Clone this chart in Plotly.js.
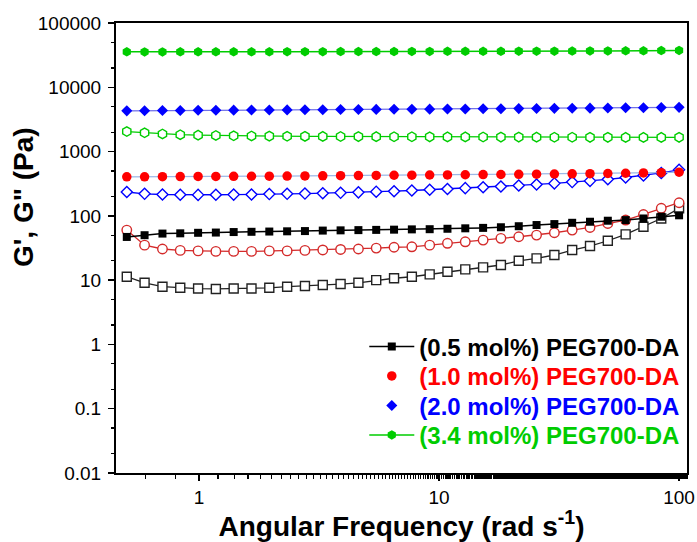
<!DOCTYPE html>
<html>
<head>
<meta charset="utf-8">
<script src="https://cdn.plot.ly/plotly-3.0.1.min.js"></script>
<style>
  html, body { margin: 0; padding: 0; background: #fff; }
  #chart { width: 697px; height: 542px; }
</style>
</head>
<body>
<div id="chart"></div>
<script>
// Angular frequency sweep (rad/s)
const freq = [0.5, 0.593, 0.704, 0.835, 0.991, 1.175, 1.394, 1.654, 1.962, 2.328,
  2.762, 3.277, 3.888, 4.613, 5.472, 6.493, 7.702, 9.139, 10.84, 12.86,
  15.26, 18.10, 21.48, 25.48, 30.23, 35.86, 42.55, 50.48, 59.89, 71.05, 84.29, 100];

// Storage modulus G' (Pa)
const gStore05 = [47, 50, 53, 53.5, 54.5, 55, 56, 56.5, 57, 57.5, 58, 59, 59.5, 60, 60.5, 61,
  61.6, 62, 63, 64, 65, 66.5, 69, 72, 74.5, 78, 81, 84, 86, 91, 97, 102];
const gStore10 = [405, 405, 407, 408, 410, 410, 412, 413, 415, 416, 418, 420, 421, 423, 425, 428,
  430, 432, 434, 436, 438, 440, 443, 445, 448, 450, 453, 456, 460, 465, 470, 478];
const gStore20 = [4300, 4320, 4340, 4360, 4380, 4400, 4410, 4420, 4440, 4450, 4470, 4480, 4500, 4510, 4530, 4540,
  4560, 4570, 4590, 4600, 4620, 4640, 4660, 4680, 4700, 4720, 4740, 4760, 4790, 4810, 4840, 4870];
const gStore34 = [35600, 35500, 35500, 35600, 35600, 35600, 35700, 35700, 35700, 35800, 35800, 35800, 35900, 35900, 36000, 36000,
  36100, 36100, 36200, 36200, 36300, 36300, 36400, 36500, 36500, 36600, 36700, 36800, 36900, 37000, 37200, 37400];

// Loss modulus G'' (Pa)
const gLoss05 = [11.3, 9.1, 7.9, 7.6, 7.4, 7.3, 7.4, 7.4, 7.6, 7.9, 8.1, 8.4, 8.7, 9.1, 10.0, 10.7,
  11.3, 12.3, 13.5, 14.7, 15.8, 17.2, 20, 21.8, 24.6, 29.4, 33.9, 41, 51.5, 67.6, 91, 131];
const gLoss10 = [60, 35, 30.5, 29, 28.5, 28, 28, 28, 28.5, 28.5, 29, 29.5, 30, 30.5, 31.5, 32.5,
  33, 35, 37.4, 39.5, 42, 44.7, 47.3, 50.2, 54.6, 60, 66, 76, 86, 105, 131, 160];
const gLoss20 = [235, 220, 215, 213, 212, 213, 214, 215, 218, 220, 222, 225, 228, 232, 238, 242,
  248, 255, 262, 270, 278, 287, 297, 308, 320, 335, 350, 370, 395, 425, 465, 520];
const gLoss34 = [2050, 1960, 1880, 1830, 1800, 1780, 1760, 1750, 1740, 1730, 1725, 1720, 1715, 1710, 1705, 1700,
  1700, 1695, 1690, 1690, 1685, 1680, 1680, 1675, 1670, 1670, 1665, 1665, 1660, 1660, 1660, 1665];

const seriesNames = ['(0.5 mol%) PEG700-DA', '(1.0 mol%) PEG700-DA',
  '(2.0 mol%) PEG700-DA', '(3.4 mol%) PEG700-DA'];

const yTickVals = [0.01, 0.1, 1, 10, 100, 1000, 10000, 100000];
const yTickText = ['0.01', '0.1', '1', '10', '100', '1000', '10000', '100000'];
const xTickVals = [1, 10, 100];
const xTickText = ['1', '10', '100'];

const BLACK = '#000000', RED = '#ff0000', RED_OPEN = '#d42a2a', BLUE = '#0000ff', GREEN = '#00cc00';
const FONT = 'Arial, "Liberation Sans", sans-serif';

// hollow symbols: white fill so the joining line stops at each marker
function openTrace(y, color, symbol, size, lineColor) {
  return {
    x: freq, y: y, type: 'scatter', mode: 'lines+markers', showlegend: false,
    line: { color: lineColor, width: 1.3 },
    marker: { symbol: symbol, size: size, color: '#ffffff', line: { color: color, width: 1.4 } },
    hoverinfo: 'skip'
  };
}
function connector(y, color) {
  return {
    x: freq, y: y, type: 'scatter', mode: 'lines', showlegend: false,
    line: { color: color, width: 1.3 }, hoverinfo: 'skip'
  };
}

const traces = [
  // loss moduli (open symbols)
  openTrace(gLoss05, '#222222', 'square', 9, '#222222'),
  openTrace(gLoss10, RED_OPEN, 'circle', 9.5, RED_OPEN),
  openTrace(gLoss20, BLUE, 'diamond', 8.5, BLUE),
  openTrace(gLoss34, GREEN, 'hexagon', 9.5, GREEN),
  // faint joining lines under the storage moduli of 1.0 and 2.0 mol%
  connector(gStore10, '#9db8e6'),
  connector(gStore20, '#7070e8'),
  // storage moduli (filled symbols)
  {
    x: freq, y: gStore05, type: 'scatter', mode: 'lines+markers', name: seriesNames[0],
    line: { color: BLACK, width: 1.5 },
    marker: { symbol: 'square', size: 8, color: BLACK }
  },
  {
    x: freq, y: gStore10, type: 'scatter', mode: 'markers', name: seriesNames[1],
    marker: { symbol: 'circle', size: 9.5, color: RED }
  },
  {
    x: freq, y: gStore20, type: 'scatter', mode: 'markers', name: seriesNames[2],
    marker: { symbol: 'diamond', size: 8.5, color: BLUE }
  },
  {
    x: freq, y: gStore34, type: 'scatter', mode: 'lines+markers', name: seriesNames[3],
    line: { color: GREEN, width: 1.5 },
    marker: { symbol: 'hexagon', size: 9.5, color: GREEN }
  }
];

const axisCommon = {
  type: 'log', showgrid: false, zeroline: false,
  showline: true, linecolor: '#000', linewidth: 2, mirror: true,
  ticks: 'outside', ticklen: 6, tickwidth: 1.5, tickcolor: '#000',
  tickfont: { family: FONT, size: 19, color: '#000' },
  minor: { ticks: 'outside', ticklen: 3.5, tickwidth: 1.2, tickcolor: '#000', showgrid: false }
};

const layout = {
  width: 697, height: 542,
  paper_bgcolor: '#fff', plot_bgcolor: '#fff',
  margin: { l: 116, r: 10, t: 23, b: 69 },
  showlegend: true,
  legend: {
    x: 0.997, y: 0.035, xanchor: 'right', yanchor: 'bottom',
    bgcolor: 'rgba(0,0,0,0)', borderwidth: 0,
    traceorder: 'normal',
    font: { family: FONT, size: 24, color: '#000', weight: 'bold' },
    itemwidth: 45
  },
  xaxis: Object.assign({}, axisCommon, {
    range: [-0.346, 2.033],
    tickmode: 'array', tickvals: xTickVals, ticktext: xTickText,
    title: { text: 'Angular Frequency (rad s<sup>-1</sup>)', standoff: 6,
      font: { family: FONT, size: 28, color: '#000', weight: 'bold' } }
  }),
  yaxis: Object.assign({}, axisCommon, {
    range: [-2, 5],
    tickmode: 'array', tickvals: yTickVals, ticktext: yTickText,
    ticklabelstandoff: 3
  }),
  annotations: [{
    text: 'G\', G" (Pa)', textangle: -90, showarrow: false,
    xref: 'paper', yref: 'paper', x: -0.163, y: 0.613, xanchor: 'center', yanchor: 'middle',
    font: { family: FONT, size: 28, color: '#000', weight: 'bold' }
  }]
};

const ROW_PITCH = 29.5; // vertical distance between legend rows

Plotly.newPlot('chart', traces, layout, { displayModeBar: false, staticPlot: true }).then(function () {
  const colors = [BLACK, RED, BLUE, GREEN];
  const rows = Array.from(document.querySelectorAll('.legend .traces'));
  // read each row's offset so the rows can be packed a little tighter
  const offsets = rows.map(function (g) {
    const m = /translate\(\s*([-\d.]+)[ ,]+([-\d.]+)\s*\)/.exec(g.getAttribute('transform') || '');
    return m ? [parseFloat(m[1]), parseFloat(m[2])] : [0, 0];
  });
  const last = offsets.length - 1;
  rows.forEach(function (g, i) {
    // colour each legend label like its series
    const t = g.querySelector('text.legendtext');
    if (t && colors[i]) t.style.fill = colors[i];
    if (last >= 0) {
      const y = offsets[last][1] - (last - i) * ROW_PITCH;
      g.setAttribute('transform', 'translate(' + offsets[i][0] + ',' + y + ')');
    }
  });
});
</script>
</body>
</html>
